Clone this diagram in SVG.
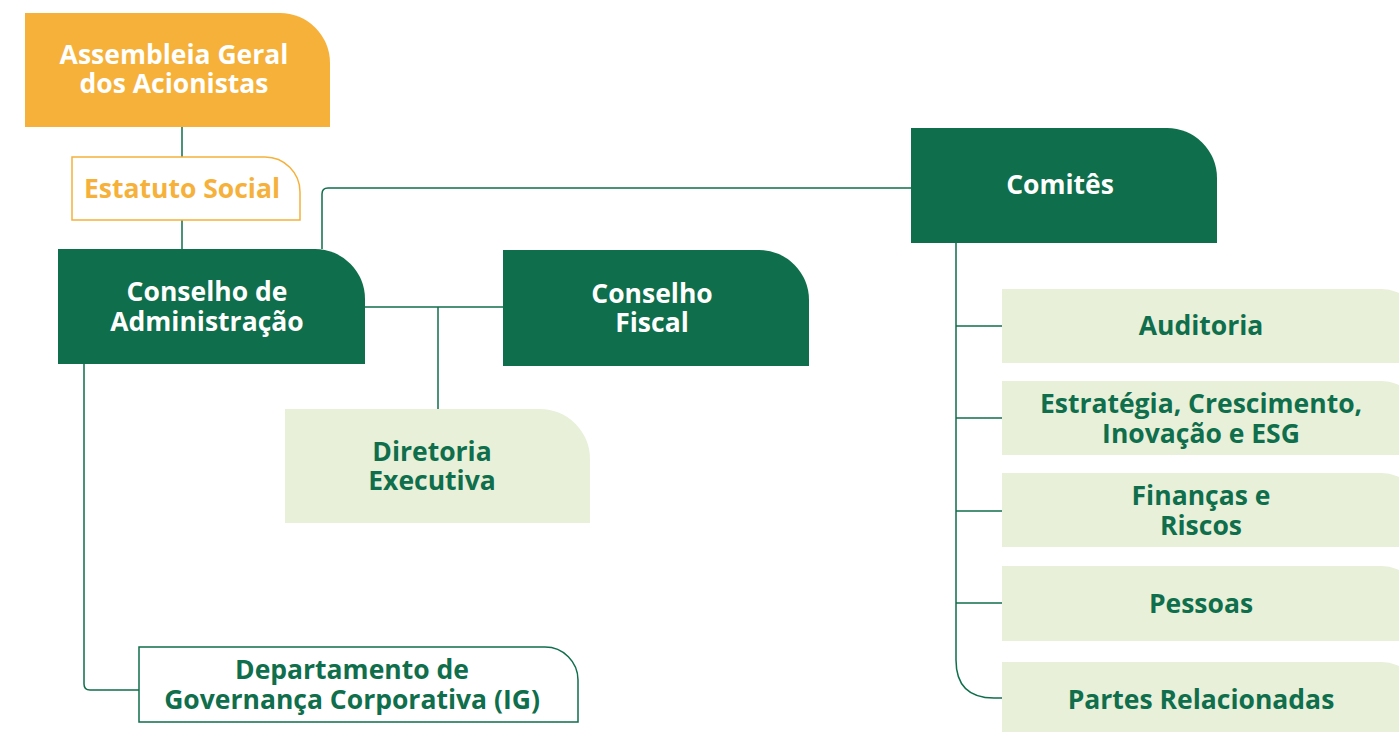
<svg xmlns="http://www.w3.org/2000/svg" width="1399" height="732" viewBox="0 0 1399 732">
<style>
.t{font-family:"Open Sans","Noto Sans","Liberation Sans",sans-serif;font-weight:700;font-size:26.5px;text-anchor:middle}
.w{fill:#ffffff}
.g{fill:#0F6E4B}
.o{fill:#F6B13B}
.dk{fill:#0F6E4B}
.lt{fill:#E8F0D9}
.cn{fill:none;stroke:#0F6E4B;stroke-width:1.5}
</style>
<rect width="1399" height="732" fill="#ffffff"/>
<g id="connectors">
<path class="cn" d="M182 127V157"/>
<path class="cn" d="M182 220V249"/>
<path class="cn" d="M322 249V194Q322 188 328 188H911"/>
<path class="cn" d="M365 307H503"/>
<path class="cn" d="M438 307V409"/>
<path class="cn" d="M84 364V684Q84 690 90 690H139"/>
<path class="cn" d="M956 243V660Q956 698 994 698H1002"/>
<path class="cn" d="M956 326H1002"/>
<path class="cn" d="M956 418H1002"/>
<path class="cn" d="M956 511H1002"/>
<path class="cn" d="M956 603H1002"/>
</g>
<g id="assembleia">
<path fill="#F6B13B" d="M25 13H280A50 50 0 0 1 330 63V127H25Z"/>
<text class="t w" x="174" y="64">Assembleia Geral</text>
<text class="t w" x="174" y="93">dos Acionistas</text>
</g>
<g id="estatuto">
<path fill="#ffffff" stroke="#F6B13B" stroke-width="1.5" d="M72 157H265A35 35 0 0 1 300 192V220H72Z"/>
<text class="t o" x="182" y="198">Estatuto Social</text>
</g>
<g id="conselho-admin">
<path class="dk" d="M58 249H315A50 50 0 0 1 365 299V364H58Z"/>
<text class="t w" x="207" y="301">Conselho de</text>
<text class="t w" x="207" y="331">Administração</text>
</g>
<g id="conselho-fiscal">
<path class="dk" d="M503 250H759A50 50 0 0 1 809 300V366H503Z"/>
<text class="t w" x="652" y="303">Conselho</text>
<text class="t w" x="652" y="332">Fiscal</text>
</g>
<g id="diretoria">
<path class="lt" d="M285 409H540A50 50 0 0 1 590 459V523H285Z"/>
<text class="t g" x="432" y="461">Diretoria</text>
<text class="t g" x="432" y="490">Executiva</text>
</g>
<g id="departamento">
<path fill="#ffffff" stroke="#0F6E4B" stroke-width="1.5" d="M139 647H545A33 33 0 0 1 578 680V722H139Z"/>
<text class="t g" x="352" y="679">Departamento de</text>
<text class="t g" x="352" y="709">Governança Corporativa (IG)</text>
</g>
<g id="comites">
<path class="dk" d="M911 128H1167A50 50 0 0 1 1217 178V243H911Z"/>
<text class="t w" x="1060" y="194">Comitês</text>
</g>
<g id="auditoria">
<path class="lt" d="M1002 289H1382A38 38 0 0 1 1420 327V363H1002Z"/>
<text class="t g" x="1201" y="335">Auditoria</text>
</g>
<g id="estrategia">
<path class="lt" d="M1002 381H1382A38 38 0 0 1 1420 419V455H1002Z"/>
<text class="t g" x="1201" y="413">Estratégia, Crescimento,</text>
<text class="t g" x="1201" y="443">Inovação e ESG</text>
</g>
<g id="financas">
<path class="lt" d="M1002 473H1382A38 38 0 0 1 1420 511V547H1002Z"/>
<text class="t g" x="1201" y="505">Finanças e</text>
<text class="t g" x="1201" y="535">Riscos</text>
</g>
<g id="pessoas">
<path class="lt" d="M1002 566H1382A38 38 0 0 1 1420 604V641H1002Z"/>
<text class="t g" x="1201" y="613">Pessoas</text>
</g>
<g id="partes">
<path class="lt" d="M1002 662H1382A38 38 0 0 1 1420 700V740H1002Z"/>
<text class="t g" x="1201" y="709">Partes Relacionadas</text>
</g>
</svg>
